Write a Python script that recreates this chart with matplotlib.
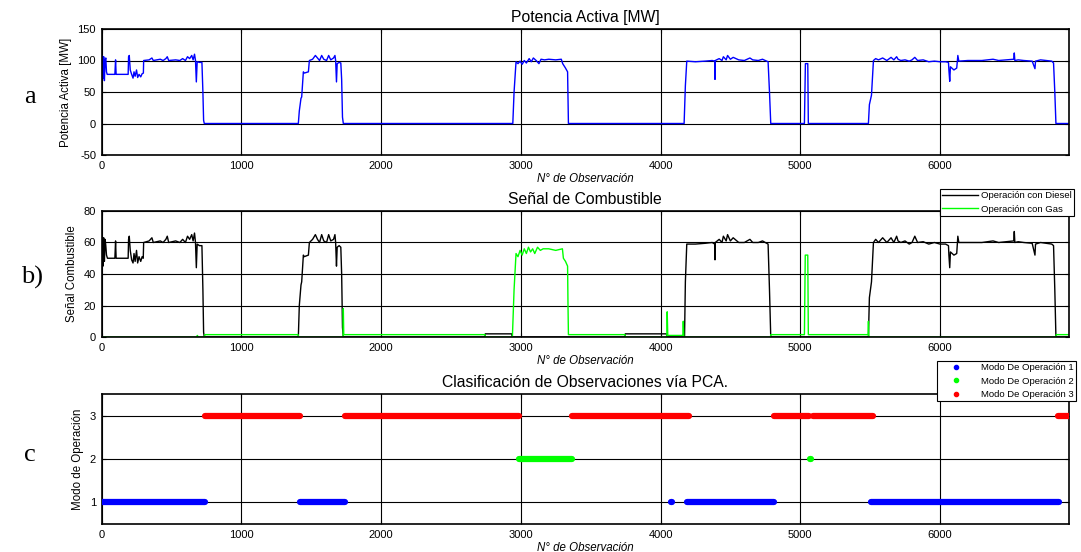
import numpy as np
import matplotlib
matplotlib.use('Agg')
import matplotlib.pyplot as plt
from matplotlib.lines import Line2D

plt.rcParams['font.family'] = ['Liberation Sans', 'DejaVu Sans']
plt.rcParams['axes.unicode_minus'] = False

# panel a: potencia activa (vertices)
pot_obs = [0, 5, 10, 15, 20, 25, 30, 35, 40, 95, 100, 104, 190, 193, 198, 205, 215, 225, 232, 240,
           250, 258, 268, 280, 290, 299, 301, 340, 360, 370, 420, 440, 460, 470, 480, 530, 560, 580,
           600, 615, 630, 645, 655, 665, 672, 678, 684, 700, 718, 725, 730, 735,
           1408, 1415, 1427, 1432, 1444, 1450, 1480, 1487, 1510, 1530, 1545, 1560, 1575, 1590, 1610,
           1625, 1640, 1660, 1670, 1675, 1681, 1686, 1700, 1712, 1718, 1724, 1730,
           2943, 2952, 2966, 2980, 2995, 3010, 3025, 3040, 3060, 3075, 3090, 3110, 3130, 3145, 3170,
           3200, 3250, 3290, 3300, 3320, 3335, 3338, 3341,
           4169, 4178, 4188, 4250, 4320, 4370, 4388, 4390, 4392, 4420, 4440, 4450, 4470, 4480, 4500,
           4520, 4560, 4600, 4640, 4660, 4700, 4730, 4770, 4780, 4789,
           5030, 5037, 5054, 5058,
           5488, 5495, 5510, 5524, 5540, 5560, 5590, 5620, 5650, 5670, 5690, 5700, 5720, 5750, 5780,
           5800, 5820, 5840, 5880, 5920, 5960, 6000, 6040, 6061, 6064, 6070, 6075, 6100, 6120, 6128,
           6135, 6200, 6300, 6380, 6420, 6528, 6532, 6536, 6560, 6600, 6660, 6680, 6684, 6720, 6800,
           6813, 6822, 6830, 6920]
pot_mw = [95, 108, 72, 106, 68, 100, 104, 82, 78, 78, 101, 78, 78, 106, 108, 85, 78, 72, 82, 75,
          85, 73, 78, 74, 79, 80, 100, 101, 104, 100, 102, 100, 103, 106, 100, 101, 100, 103,
          100, 106, 103, 108, 101, 110, 100, 66, 98, 97, 97, 50, 5, 0,
          0, 20, 40, 42, 82, 80, 82, 100, 102, 108, 104, 100, 108, 102, 100,
          108, 101, 104, 108, 100, 66, 95, 97, 96, 70, 10, 0,
          0, 50, 98, 95, 99, 94, 100, 96, 103, 98, 104, 100, 95, 102, 101,
          102, 101, 102, 95, 88, 82, 40, 0,
          0, 60, 99, 98, 99, 100, 99, 70, 100, 103, 100, 106, 101, 108, 102,
          105, 101, 100, 104, 101, 100, 102, 98, 50, 0,
          0, 95, 95, 0,
          0, 30, 45, 100, 103, 101, 104, 100, 105, 101, 106, 102, 100, 101, 99,
          101, 105, 100, 101, 98, 99, 98, 98, 97, 85, 67, 90, 85, 88, 108,
          99, 100, 100, 102, 100, 102, 112, 100, 101, 100, 99, 87, 99, 101, 99,
          96, 50, 0, 0]

# panel b: señal de combustible
dsl_obs = [0, 5, 10, 15, 20, 25, 30, 35, 42, 95, 100, 104, 190, 193, 198, 205, 215, 225, 232, 240,
           250, 258, 268, 280, 290, 298, 301, 340, 360, 370, 420, 440, 460, 470, 480, 530, 560, 580,
           600, 615, 630, 645, 655, 665, 672, 678, 684, 700, 718, 725, 730, 735,
           1408, 1415, 1427, 1432, 1444, 1450, 1480, 1487, 1510, 1530, 1545, 1560, 1575, 1590, 1610,
           1625, 1640, 1660, 1670, 1675, 1681, 1686, 1700, 1712, 1718, 1724, 1730,
           2744, 2746, 2935, 2938, 3746, 3748, 4043, 4045,
           4172, 4178, 4188, 4250, 4320, 4370, 4388, 4390, 4392, 4420, 4440, 4450, 4470, 4480, 4500,
           4520, 4560, 4600, 4640, 4660, 4700, 4730, 4770, 4780, 4789,
           5488, 5495, 5510, 5524, 5540, 5560, 5590, 5620, 5650, 5670, 5690, 5700, 5720, 5750, 5780,
           5800, 5820, 5840, 5880, 5920, 5960, 6000, 6040, 6061, 6064, 6070, 6075, 6100, 6120, 6128,
           6135, 6200, 6300, 6380, 6420, 6528, 6532, 6536, 6560, 6600, 6660, 6680, 6684, 6720, 6800,
           6813, 6822, 6830, 6920]
dsl_val = [58, 64, 45, 63, 48, 62, 58, 52, 50, 50, 61, 50, 50, 62, 64, 55, 49, 47, 53, 48,
           55, 47, 51, 48, 51, 50, 60, 61, 63, 60, 61, 60, 62, 64, 60, 61, 60, 62,
           60, 64, 62, 65, 61, 66, 60, 44, 59, 58, 58, 30, 3, 0,
           0, 20, 33, 35, 52, 51, 52, 60, 62, 65, 62, 60, 65, 61, 60,
           65, 61, 62, 65, 60, 45, 57, 58, 57, 40, 6, 0,
           0, 2, 2, 0, 0, 2, 2, 0,
           0, 35, 59, 59, 59.5, 60, 59, 49, 60, 62, 60, 64, 61, 65, 61,
           63, 60, 60, 62, 60, 60, 61, 59, 30, 0,
           0, 25, 35, 60, 62, 60, 63, 60, 63, 60, 64, 61, 60, 61, 59,
           60, 64, 60, 60.5, 59, 60, 59, 59, 58, 52, 44, 54, 52, 53, 64,
           60, 60, 60, 61, 60, 61, 67, 60, 60.5, 60, 59.5, 52, 59, 60, 59,
           58, 30, 0, 0]

gas_obs = [0, 680, 685, 692, 736, 740, 1406, 1410, 1728, 1730, 1733, 2744, 2747, 2940, 2952, 2966,
           2980, 2995, 3010, 3025, 3040, 3055, 3070, 3085, 3100, 3120, 3140, 3160, 3200, 3250, 3298,
           3305, 3320, 3335, 3338, 3341, 3746, 3749, 4045, 4048, 4052, 4160, 4163, 4167, 4786, 4790,
           5030, 5036, 5054, 5058, 5486, 5488, 5491, 6828, 6833, 6920]
gas_val = [0, 0, 1, 0, 0, 1.5, 1.5, 0, 0, 18, 1.5, 1.5, 0, 0, 30, 53,
           51, 55, 52, 56, 53, 57, 54, 56, 53, 57, 55, 56, 56, 55, 56,
           50, 48, 45, 20, 1.5, 1.5, 0, 0, 16, 1, 1, 10, 0, 0, 1.5,
           1.5, 52, 52, 1.5, 1.5, 10, 0, 0, 1.5, 1.5]

# panel c: modo de operación (start, end) of each run
modo1 = [(0, 740), (1422, 1743), (4075, 4079), (4190, 4813), (5510, 6855)]
modo2 = [(2985, 3365), (5071, 5077)]
modo3 = [(740, 1422), (1743, 2985), (3365, 4203), (4813, 5066), (5090, 5519), (6843, 6920)]

XMAX = 6920
W, H = 1081, 552
fig = plt.figure(figsize=(W / 100, H / 100), dpi=100)


def px_axes(top, bottom):
    left, right = 101.6, 1068.5
    return fig.add_axes([left / W, 1 - bottom / H, (right - left) / W, (bottom - top) / H])


def matlab_style(ax):
    ax.set_xlim(0, XMAX)
    ax.set_xticks([0, 1000, 2000, 3000, 4000, 5000, 6000])
    ax.grid(True, color='black', lw=0.8)
    ax.tick_params(direction='in', top=True, right=True, labelsize=8, length=3, pad=4)
    for s in ax.spines.values():
        s.set_linewidth(1.2)
    ax.set_xlabel('N° de Observación', fontsize=8.3, style='italic', labelpad=1.5)


ax1 = px_axes(29, 155)
ax1.plot(pot_obs, pot_mw, color='#0000ff', lw=1)
ax1.set_ylim(-50, 150)
ax1.set_yticks([-50, 0, 50, 100, 150])
matlab_style(ax1)
ax1.set_title('Potencia Activa [MW]', fontsize=11.3, pad=5)
ax1.set_ylabel('Potencia Activa [MW]', fontsize=8.3, labelpad=4)

ax2 = px_axes(211, 337)
ax2.plot(dsl_obs, dsl_val, color='black', lw=1, label='Operación con Diesel')
ax2.plot(gas_obs, gas_val, color='#00ff00', lw=1, label='Operación con Gas')
ax2.set_ylim(0, 80)
ax2.set_yticks([0, 20, 40, 60, 80])
matlab_style(ax2)
ax2.set_title('Señal de Combustible', fontsize=11.3, pad=5)
ax2.set_ylabel('Señal Combustible', fontsize=8.3, labelpad=4)
leg = fig.legend(handles=ax2.get_lines(), loc='upper right', bbox_to_anchor=(1074 / W, 1 - 189 / H),
                 fontsize=6.8, fancybox=False, framealpha=1, edgecolor='black', handlelength=3.8,
                 borderpad=0.25, labelspacing=0.45, handletextpad=0.3, borderaxespad=0)
leg.get_frame().set_linewidth(0.8)

ax3 = px_axes(394, 524)
for runs, col, y in [(modo1, '#0000ff', 1), (modo2, '#00ff00', 2), (modo3, '#ff0000', 3)]:
    for a, b in runs:
        ax3.plot([a, b], [y, y], color=col, lw=4.5, solid_capstyle='round', zorder=3)
ax3.set_ylim(0.5, 3.5)
ax3.set_yticks([1, 2, 3])
matlab_style(ax3)
ax3.set_title('Clasificación de Observaciones vía PCA.', fontsize=11.3, pad=5)
ax3.set_ylabel('Modo de Operación', fontsize=8.3, labelpad=4)
handles = [Line2D([], [], color=c, marker='.', ls='none', markersize=6) for c in ['#0000ff', '#00ff00', '#ff0000']]
leg3 = fig.legend(handles=handles, labels=['Modo De Operación 1', 'Modo De Operación 2', 'Modo De Operación 3'],
                  loc='upper right', bbox_to_anchor=(1076 / W, 1 - 361 / H), fontsize=6.8, fancybox=False,
                  framealpha=1, edgecolor='black', handlelength=3.6, borderpad=0.2, labelspacing=0.5,
                  handletextpad=0.9, borderaxespad=0)
leg3.get_frame().set_linewidth(0.8)

# panel letters
for txt, x, y in [('a', 30, 97), ('b)', 32, 277), ('c', 30, 455)]:
    fig.text(x / W, 1 - y / H, txt, fontsize=19, family='Liberation Serif', ha='center', va='center')

fig.savefig('out.png', dpi=100)
